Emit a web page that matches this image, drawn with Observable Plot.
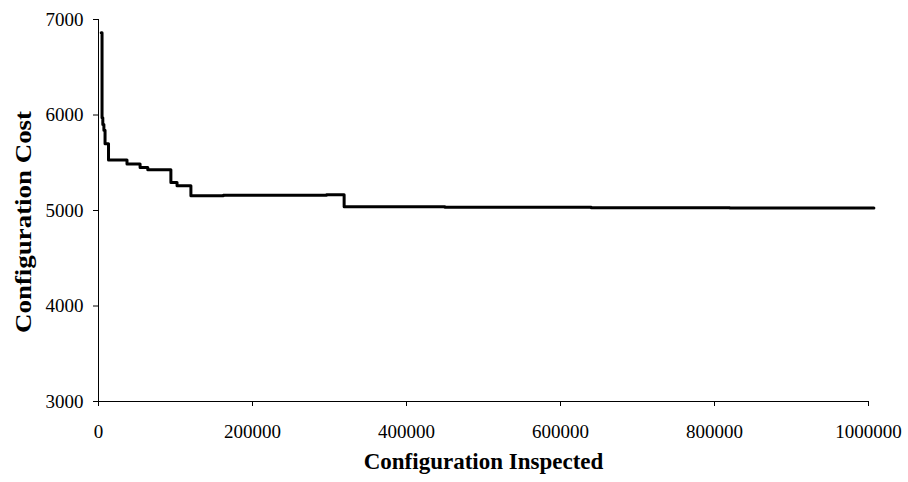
<!DOCTYPE html>
<html>
<head>
<meta charset="utf-8">
<script src="https://cdn.jsdelivr.net/npm/d3@7"></script>
<script src="https://cdn.jsdelivr.net/npm/@observablehq/plot@0.6"></script>
<style>
  html, body { margin: 0; padding: 0; background: #fff; }
  #chart { width: 908px; height: 482px; }
</style>
</head>
<body>
<div id="chart"></div>
<script>
// Data
const inspected = [3500, 4600, 5600, 7000, 8500, 13000, 37000, 54000, 64000, 94000, 102000, 120000, 162000, 296000, 319000, 450000, 640000, 820000, 1007000];
const cost      = [6860, 5970, 5900, 5840, 5700, 5528, 5486, 5451, 5427, 5294, 5259, 5154, 5160, 5165, 5040, 5035, 5030, 5027, 5027];
const xTicks = [0, 200000, 400000, 600000, 800000, 1000000];
const yTicks = [3000, 4000, 5000, 6000, 7000];
const xTitle = "Configuration Inspected";
const yTitle = "Configuration Cost";

const data = inspected.map((x, i) => ({x, y: cost[i]}));

const chart = Plot.plot({
  width: 908,
  height: 482,
  marginLeft: 98,
  marginRight: 40,
  marginTop: 19,
  marginBottom: 81,
  style: {fontFamily: "'Liberation Serif', 'Times New Roman', serif", fontSize: "19px", color: "#000", background: "#fff"},
  x: {domain: [0, 1000000], ticks: xTicks, tickFormat: d => String(d), tickSize: 5, tickPadding: 18, label: null},
  y: {domain: [3000, 7000], ticks: yTicks, tickFormat: d => String(d), tickSize: 5, tickPadding: 10, label: null},
  marks: [
    Plot.ruleY([3000], {stroke: "#000", strokeWidth: 1}),
    Plot.ruleX([0], {stroke: "#000", strokeWidth: 1}),
    Plot.line(data, {x: "x", y: "y", curve: "step-after", stroke: "#000", strokeWidth: 3}),
    Plot.text([xTitle], {text: d => d, frameAnchor: "bottom", dy: 67, fontWeight: "bold", fontSize: 23, fill: "#000"}),
    Plot.text([yTitle], {text: d => d, y: () => 4880, frameAnchor: "left", textAnchor: "middle", dx: -75, rotate: -90, fontWeight: "bold", fontSize: 23, fill: "#000"})
  ]
});
document.getElementById("chart").appendChild(chart);
d3.select(chart).selectAll("text")
  .filter(function() { return this.textContent === yTitle; })
  .attr("textLength", 222)
  .attr("lengthAdjust", "spacingAndGlyphs");
</script>
</body>
</html>
